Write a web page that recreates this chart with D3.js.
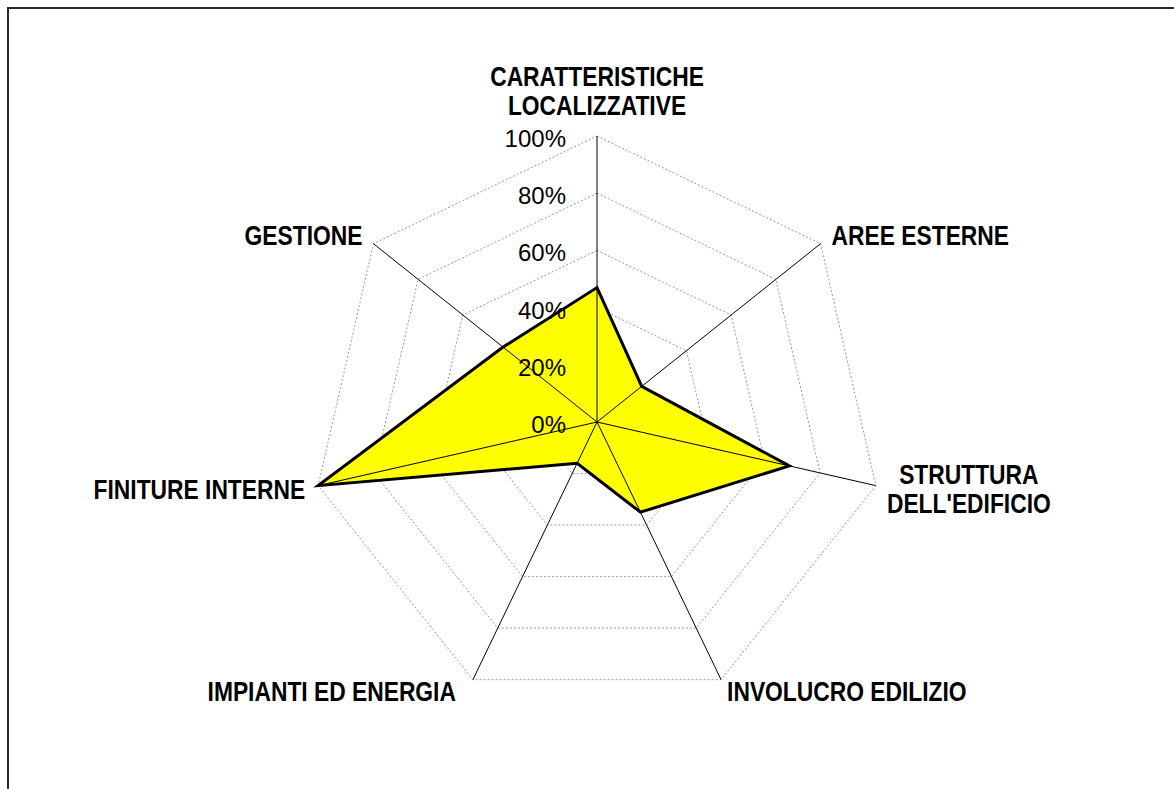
<!DOCTYPE html>
<html>
<head>
<meta charset="utf-8">
<script src="https://cdn.jsdelivr.net/npm/d3@7"></script>
<style>
  body { margin: 0; background: #fff; }
  svg { display: block; }
</style>
</head>
<body>
<div id="chart"></div>
<script>
// Axis labels (one array entry per line of text)
const categories = [
    ["CARATTERISTICHE", "LOCALIZZATIVE"],
    ["AREE ESTERNE"],
    ["STRUTTURA", "DELL'EDIFICIO"],
    ["INVOLUCRO EDILIZIO"],
    ["IMPIANTI ED ENERGIA"],
    ["FINITURE INTERNE"],
    ["GESTIONE"]
];
const values = [47, 20, 69, 35, 16, 100, 42];
const ticks = [0, 20, 40, 60, 80, 100];
const tickLabels = ["0%", "20%", "40%", "60%", "80%", "100%"];

const width = 1174;
const height = 789;
const cx = 597, cy = 422;
const radius = 286;

const svg = d3.select("#chart")
    .append("svg")
    .attr("width", width)
    .attr("height", height);

// Outer frame of the chart area (runs past the window edge)
svg.append("rect")
    .attr("x", 8)
    .attr("y", 8)
    .attr("width", 1300)
    .attr("height", 900)
    .attr("fill", "none")
    .attr("stroke", "#2a2a2a")
    .attr("stroke-width", 2);

const r = d3.scaleLinear().domain([0, 100]).range([0, radius]);
const n = categories.length;
const angle = i => (i * 2 * Math.PI) / n;
const px = (i, v) => cx + r(v) * Math.sin(angle(i));
const py = (i, v) => cy - r(v) * Math.cos(angle(i));

const g = svg.append("g");

// Grid heptagons
g.selectAll("polygon.grid")
    .data(ticks.filter(t => t > 0))
    .enter()
    .append("polygon")
    .attr("class", "grid")
    .attr("points", t => d3.range(n).map(i => [px(i, t), py(i, t)].join(",")).join(" "))
    .attr("fill", "none")
    .attr("stroke", "#9a9a9a")
    .attr("stroke-width", 1)
    .attr("stroke-dasharray", "2,2");

// Data polygon
g.append("polygon")
    .attr("points", values.map((v, i) => [px(i, v), py(i, v)].join(",")).join(" "))
    .attr("fill", "#ffff00")
    .attr("stroke", "#000")
    .attr("stroke-width", 3)
    .attr("stroke-linejoin", "miter");

// Spokes
g.selectAll("line.spoke")
    .data(d3.range(n))
    .enter()
    .append("line")
    .attr("class", "spoke")
    .attr("x1", cx)
    .attr("y1", cy)
    .attr("x2", i => px(i, 100))
    .attr("y2", i => py(i, 100))
    .attr("stroke", "#000")
    .attr("stroke-width", 1);

// Tick labels along the vertical axis
g.selectAll("text.tick")
    .data(ticks)
    .enter()
    .append("text")
    .attr("class", "tick")
    .attr("x", cx - 31)
    .attr("y", t => cy - r(t) + 11)
    .attr("text-anchor", "end")
    .style("font-family", "Arial, 'Liberation Sans', sans-serif")
    .style("font-size", "24px")
    .text((t, i) => tickLabels[i]);

// Category labels: bold, squeezed horizontally like a narrow face
const labelFont = "Arial, 'Liberation Sans', sans-serif";
const squeeze = 0.845;
const lineH = 28;
categories.forEach((lines, i) => {
    const ex = px(i, 100), ey = py(i, 100);
    const s = Math.sin(angle(i));
    const c = Math.cos(angle(i));
    let anchor = s > 0.1 ? "start" : (s < -0.1 ? "end" : "middle");
    let x = ex, y = ey;
    if (Math.abs(s) < 0.1) {
        // top label: block sits above the axis end
        y = ey - 22 - (lines.length - 1) * lineH;
    } else if (lines.length > 1) {
        // two-line label to the side
        anchor = "middle";
        x = ex + (s > 0 ? 93 : -93);
        y = ey - 2;
    } else if (Math.abs(s) > 0.9) {
        // near-horizontal spoke
        x = ex + (s > 0 ? 13 : -13);
        y = ey + 13;
    } else if (c < 0) {
        // lower spokes: label just below/beside the end
        x = ex + (s > 0 ? 6 : -17);
        y = ey + 21;
    } else {
        // upper spokes
        x = ex + (s > 0 ? 11 : -11);
        y = ey + 1;
    }
    const t = svg.append("text")
        .attr("transform", `translate(${x},${y}) scale(${squeeze},1)`)
        .attr("text-anchor", anchor)
        .style("font-family", labelFont)
        .style("font-weight", "bold")
        .style("font-size", "27px");
    lines.forEach((line, k) => {
        t.append("tspan")
            .attr("x", 0)
            .attr("dy", k === 0 ? 0 : lineH + 1)
            .text(line);
    });
});
</script>
</body>
</html>
